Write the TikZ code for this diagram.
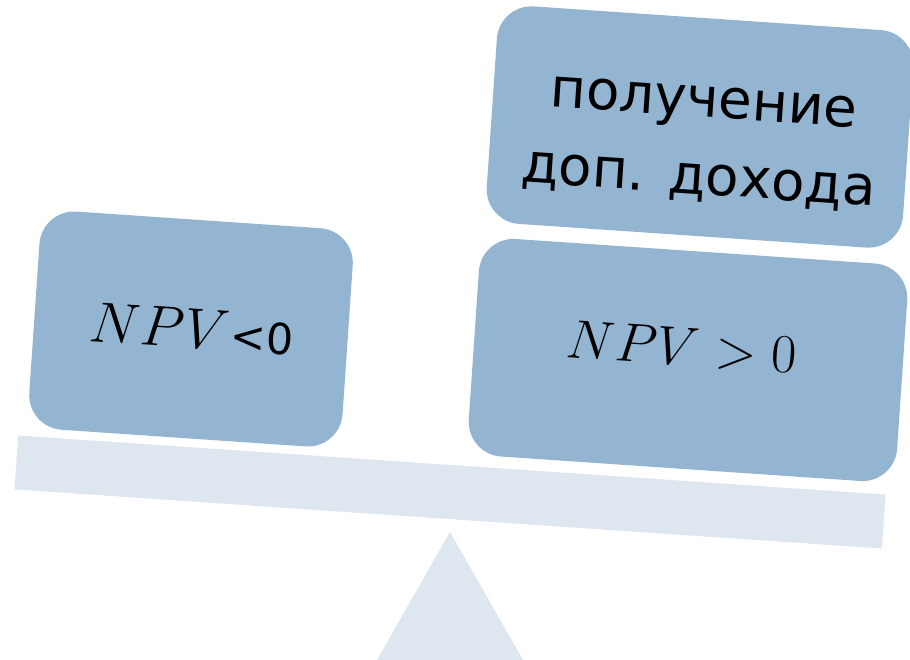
\RequirePackage{fix-cm}
\documentclass[tikz,border=0pt]{standalone}
\usepackage{fontspec}
\newfontfamily\ruf{DejaVu Sans}
\definecolor{boxblue}{RGB}{148,181,210}
\definecolor{beamgray}{RGB}{222,230,239}
\tikzset{
  pan/.style={rectangle, rounded corners=26pt, fill=boxblue, rotate=-3.9, inner sep=0pt, align=center, text=black},
  beam/.style={rectangle, fill=beamgray, rotate=-3.9, inner sep=0pt, minimum width=652pt, minimum height=40.5pt},
  label/.style={rotate=-3.9, inner sep=0pt, text=black}
}
\begin{document}
\begin{tikzpicture}[x=0.75pt,y=-0.75pt]
\clip (0,0) rectangle (910,660);
\fill[white] (0,0) rectangle (910,660);
% fulcrum
\fill[beamgray] (450,532) -- (368,676) -- (532,676) -- cycle;
% beam
\node[beam] (bar) at (450,492) {};
% pans
\node[pan, minimum width=235.5pt, minimum height=164pt] (left) at (191,329) {};
\node[pan, minimum width=322pt, minimum height=163.5pt] (low) at (688,360) {};
\node[pan, minimum width=313pt, minimum height=163.5pt] (up) at (700,127) {};
% texts
\node[label, font={\fontsize{43}{48}\selectfont}] (tl) at (192,329) {$NPV$\ruf\fontsize{32}{40}\selectfont\kern1pt<0};
\node[label, font={\fontsize{41}{46}\selectfont}] (tr) at (682,347) {$NPV > 0$};
\node[label, align=center, font={\ruf\fontsize{41}{58}\selectfont}] (tu) at (701,144) {получение\\доп. дохода};
\end{tikzpicture}
\end{document}
